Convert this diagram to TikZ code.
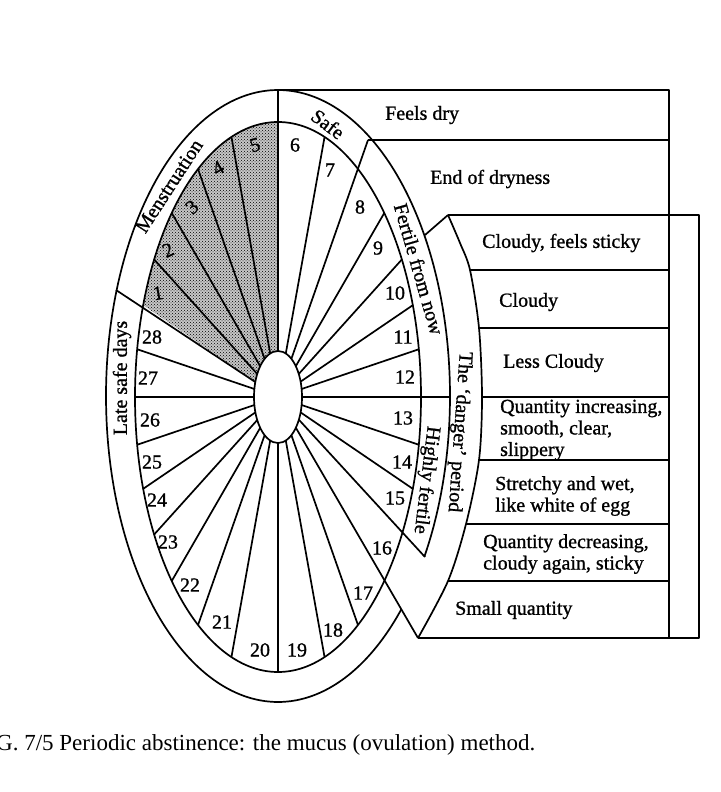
\documentclass[tikz,border=0pt]{standalone}
\usepackage{fontspec}
\setmainfont{Liberation Serif}
\newfontfamily\scanfont{Liberation Serif}[FakeBold=1]
\usetikzlibrary{patterns,shapes.geometric}

\tikzset{
  rim/.style={line width=1.7pt, line join=round},
  day/.style={font=\scanfont\fontsize{20}{22}\selectfont, inner sep=0pt},
  band/.style={font=\scanfont\fontsize{20}{22}\selectfont, inner sep=0pt},
  sign/.style={font=\scanfont\fontsize{20}{21.5}\selectfont, inner sep=0pt, anchor=west, align=left},
}

\begin{document}
\begin{tikzpicture}[x=1pt,y=-1pt]
\useasboundingbox (0,0) rectangle (720,792);
\coordinate (c) at (278,397);
\coordinate (m28) at (116,290);
\coordinate (top) at (278,90);
\coordinate (s7) at (368,140);
\coordinate (r12) at (450,397);
\coordinate (hf) at (425,557);
\coordinate (low) at (418,638);
\coordinate (dtop) at (425,235);
\coordinate (dg1) at (448,215);
\coordinate (dg2) at (470,270);
\coordinate (dg3) at (479,328);
\coordinate (dg4) at (482,397);
\coordinate (dg5) at (479,460);
\coordinate (dg6) at (466,524);
\coordinate (dg7) at (448,581);
\coordinate (col) at (669,90);
\coordinate (edge) at (699,215);

\fill[black!22] (c) -- plot[domain=0:70.5, samples=30, variable=\u] ({278+143*cos(160.5-\u)},{397-275*sin(160.5-\u)}) -- cycle;
\fill[pattern=crosshatch dots, pattern color=black] (c) -- plot[domain=0:70.5, samples=30, variable=\u] ({278+143*cos(160.5-\u)},{397-275*sin(160.5-\u)}) -- cycle;

\foreach \a in {71,42,30,19.5,10,-10,-19.5,-56,-71,-90,251,236,222,210,199.5,190,180,170,150,138,124,109}
  \draw[rim] (c) -- ({278+143*cos(\a)},{397-275*sin(\a)});
\foreach \p in {m28,top,s7,r12,hf,low}
  \draw[rim] (c) -- (\p);

\node[ellipse, draw, rim, fill=white, minimum width=48pt, minimum height=92pt, inner sep=0pt] (hub) at (c) {};
\draw[rim] (c) ellipse [x radius=143, y radius=275];
\draw[rim] plot[domain=-31.7:315.8, samples=160, smooth, variable=\u] ({278+172*cos(\u)},{396-306*sin(\u)});

\draw[rim] (dtop) -- (dg1);
\draw[rim] plot[smooth] coordinates {(dg1) (460,243) (dg2) (dg3) (dg4) (dg5) (dg6) (dg7) (low)};

\draw[rim] (top) -- (col) -- (col |- low);
\draw[rim] (s7) -- (s7 -| col);
\draw[rim] (dg1) -- (edge) -- (edge |- low) -- (low);
\foreach \p in {dg2,dg3,dg4,dg5,dg6,dg7}
  \draw[rim] (\p) -- (\p -| col);

\node[sign] (dry) at (385,115) {Feels dry};
\node[sign] (enddry) at (430,179) {End of dryness};
\node[sign] (sticky) at (482,243) {Cloudy, feels sticky};
\node[sign] (cloudy) at (499,302) {Cloudy};
\node[sign] (less) at (503,363) {Less Cloudy};
\node[sign] (incr) at (500,430) {Quantity increasing,\\smooth, clear,\\slippery};
\node[sign] (egg) at (495,496) {Stretchy and wet,\\like white of egg};
\node[sign] (decr) at (483,554) {Quantity decreasing,\\cloudy again, sticky};
\node[sign] (small) at (455,610) {Small quantity};

\foreach \n/\x/\y/\r in {1/158/293/10, 2/168/250/25, 3/192/207/40, 4/218/168/30, 5/255/145/15}
  \node[day, rotate=\r] (day\n) at (\x,\y) {\n};
\foreach \n/\x/\y in {6/295/145, 7/330/170, 8/360/207, 9/378/248, 10/395/293, 11/403/337,
    12/405/377, 13/403/418, 14/402/462, 15/395/498, 16/382/548, 17/363/593, 18/333/630,
    19/297/650, 20/260/650, 21/222/622, 22/190/585, 23/168/542, 24/157/500, 25/152/462,
    26/150/420, 27/148/378, 28/152/337}
  \node[day] (day\n) at (\x,\y) {\n};

\node[band, rotate=57] (mens) at (169,186) {Menstruation};
\node[band, rotate=-37] (safe) at (328,124) {Safe};
\node[band, rotate=-74] (fert) at (419,269) {Fertile from now};
\node[band, rotate=90] (late) at (122,378) {Late safe days};
\node[band, rotate=-94] (danger) at (459,432) {The ‘danger’ period};
\node[band, rotate=-97] (high) at (426,480) {Highly fertile};

\node[anchor=west, inner sep=0pt, font=\fontsize{23}{26}\selectfont] (caption) at (-4,745) {G. 7/5 Periodic abstinence: the mucus (ovulation) method.};
\end{tikzpicture}
\end{document}
